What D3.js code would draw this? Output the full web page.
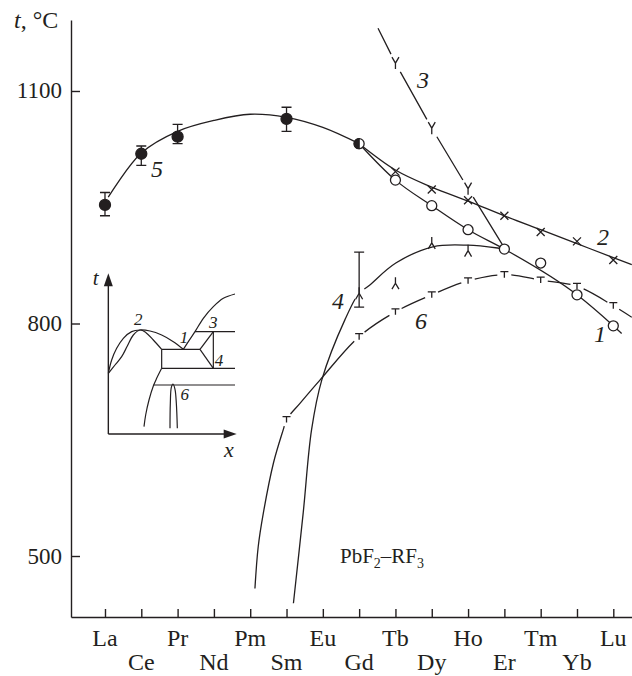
<!DOCTYPE html>
<html><head><meta charset="utf-8">
<script src="https://cdn.jsdelivr.net/npm/d3@7"></script>
<style>
body{margin:0;background:#fff}
svg{display:block}
svg text{font-family:"Liberation Serif","Times New Roman",serif;fill:#231f20}
</style>
</head><body>
<svg id="c" width="632" height="676"></svg>
<script>
// ---------- data ----------
const elements = ["La","Ce","Pr","Nd","Pm","Sm","Eu","Gd","Tb","Dy","Ho","Er","Tm","Yb","Lu"];
const yTicks = [500, 800, 1100];

// curve 5 (filled circles with error bars)
const c5Idx = [0, 1, 2, 5];
const c5Val = [953, 1019, 1041, 1064];
const c5Hi  = [969, 1029, 1057, 1079];
const c5Lo  = [939, 1004, 1032, 1048];
const c5FitIdx = [0.09, 1, 2, 3, 4, 5, 6, 7];
const c5FitVal = [963, 1020, 1048, 1062, 1070, 1066, 1053, 1032];
// Gd half-filled common point
const gdIdx = 7, gdVal = 1032;

// curve 1 (open circles)
const c1Idx = [8, 9, 10, 11, 12, 13, 14];
const c1Val = [985, 952, 921, 896, 878, 837, 797];
const c1FitIdx = [7, 8, 9, 10, 11, 13, 14, 14.23];
const c1FitVal = [1032, 985, 952, 921, 896, 837, 797, 787];

// curve 2 (crosses)
const c2Idx = [8, 9, 10, 11, 12, 13, 14];
const c2Val = [996, 973, 959, 939, 918, 906, 882];
const c2FitIdx = [7, 8, 9, 10, 11, 12, 13, 14, 14.51];
const c2FitVal = [1032, 998, 976, 958, 939, 921, 903, 885, 876];

// curve 3 (Y markers)
const c3Idx = [8, 9, 10];
const c3Val = [1136, 1052, 974];
const c3LineIdx = [7.52, 8, 9, 10, 11.02];
const c3LineVal = [1181, 1136, 1052, 974, 896];

// curve 4 (inverted Y markers)
const c4Idx = [7, 8, 9, 10];
const c4Val = [839, 852, 904, 894];
const c4ErrIdx = 7, c4ErrHi = 892, c4ErrLo = 821;
const c4LineIdx = [5.19, 5.46, 5.69, 5.97, 6.61, 7, 7.25, 8.01, 9.03, 10, 10.88, 11.02];
const c4LineVal = [439, 556, 663, 727, 805, 839, 848, 878, 899, 901, 897, 896];

// curve 6 (T markers)
const c6Idx = [5, 7, 8, 9, 10, 11, 12, 13, 14];
const c6Val = [676, 783, 815, 837, 855, 863, 856, 848, 823];
const c6LineIdx = [4.13, 4.22, 4.36, 4.64, 4.91, 5, 5.37, 5.92, 7, 8, 9, 10, 11, 12, 13, 14, 14.51];
const c6LineVal = [458, 512, 555, 620, 663, 676, 697, 727, 783, 815, 837, 855, 863, 856, 848, 823, 808];

// inset schematic (arbitrary schematic units)
const insLiq2 = [[55,340],[65,300],[80,265],[100,235],[125,215],[150,210],[180,213],[215,225],[250,245],[280,268]];
const insSol2 = [[55,340],[75,315],[95,290],[112,258],[130,225],[150,210],[168,218],[190,240],[215,268]];
const insLiq3 = [[280,268],[297,242],[315,215],[340,175],[370,140],[400,115],[435,102]];
const insSol6 = [[215,325],[200,355],[190,378],[177,420],[167,465],[162,500]];
const insDome = [[240,505],[241,430],[244,382],[249,372],[255,388],[259,430],[262,505]];
const insSegs = [
  [[215,268],[330,268]], [[215,268],[215,325]], [[215,325],[435,325]],
  [[330,268],[370,215]], [[330,268],[370,325]], [[370,215],[370,325]],
  [[315,215],[435,215]], [[190,375],[435,375]]
];
const insLabels = [["2",145,195],["1",282,250],["3",370,205],["4",387,318],["6",284,420]];

// ---------- drawing ----------
const ink = "#231f20";
const lw = 1.3;
const FONT = "'Liberation Serif', 'Times New Roman', serif";
const svg = d3.select("#c");
const x = d3.scaleLinear().domain([-0.936, 14.515]).range([71, 632]);
const y = d3.scaleLinear().domain([421.3, 1191.6]).range([617, 20]);

// axes
svg.append("g").attr("transform","translate(71,0)")
  .call(d3.axisRight(y).tickValues(yTicks).tickSize(9).tickSizeOuter(0).tickFormat(""));
svg.append("g").attr("transform","translate(0,617)")
  .call(d3.axisTop(x).tickValues(d3.range(elements.length)).tickSize(8).tickSizeOuter(0).tickFormat(""));
svg.selectAll(".domain, .tick line").attr("stroke", ink).attr("stroke-width", 1.4);

svg.append("g").selectAll("text").data(yTicks).join("text")
  .attr("x", 62).attr("y", d => y(d) + 7.5).attr("text-anchor","end")
  .attr("font-size", 23).text(d => d);
svg.append("g").selectAll("text").data(elements).join("text")
  .attr("x", (d,i) => x(i)).attr("y", (d,i) => i % 2 === 0 ? 646 : 670)
  .attr("text-anchor","middle").attr("font-size", 24).text(d => d);

const yt = svg.append("text").attr("x", 14).attr("y", 28).attr("font-size", 24);
yt.append("tspan").attr("font-style","italic").text("t");
yt.append("tspan").text(", °C");

const lineG = svg.append("g").attr("fill","none").attr("stroke",ink).attr("stroke-width",lw);
const zip = (a,b) => a.map((v,i) => [v, b[i]]);
const cr = d3.curveCatmullRom.alpha(0.5);

function drawLine(pts, curve) {
  const ln = d3.line().x(d => x(d[0])).y(d => y(d[1])).curve(curve);
  return lineG.append("path").attr("d", ln(pts));
}
function applyGaps(p, markers, gap) {
  const node = p.node(); const L = node.getTotalLength();
  const N = Math.ceil(L * 2); const samp = [];
  for (let i = 0; i <= N; i++) { const l = L * i / N; const q = node.getPointAtLength(l); samp.push([l, q.x, q.y]); }
  const cs = [];
  markers.forEach(([mi, mv]) => {
    const mx = x(mi), my = y(mv); let bd = 1e9, bl = 0;
    samp.forEach(([l, sx, sy]) => { const d = (sx-mx)**2 + (sy-my)**2; if (d < bd) { bd = d; bl = l; } });
    if (bd < 9) cs.push(bl);
  });
  cs.sort((a,b) => a-b);
  const arr = []; let pos = 0;
  cs.forEach(c => { const a = Math.max(pos, c-gap), b = Math.min(L, c+gap); arr.push(Math.max(0.01, a-pos), b-a); pos = b; });
  arr.push(L - pos + 1, L + 10);
  p.attr("stroke-dasharray", arr.join(" "));
}

// lines
drawLine(zip(c5FitIdx, c5FitVal), cr);
drawLine(zip(c1FitIdx, c1FitVal), d3.curveMonotoneX);
drawLine(zip(c2FitIdx, c2FitVal), d3.curveMonotoneX);
applyGaps(drawLine(zip(c3LineIdx, c3LineVal), d3.curveLinear), zip(c3Idx, c3Val), 10);
applyGaps(drawLine(zip(c4LineIdx, c4LineVal), cr), zip(c4Idx, c4Val), 7);
applyGaps(drawLine(zip(c6LineIdx, c6LineVal), cr), zip(c6Idx, c6Val), 7);

// error bars
const errG = svg.append("g").attr("stroke", ink).attr("stroke-width", 1.3).attr("fill","none");
function errBar(i, hi, lo) {
  const cx = x(i);
  errG.append("path").attr("d", `M${cx},${y(hi)}V${y(lo)}M${cx-5},${y(hi)}H${cx+5}M${cx-5},${y(lo)}H${cx+5}`);
}
c5Idx.forEach((d,k) => errBar(d, c5Hi[k], c5Lo[k]));
errBar(c4ErrIdx, c4ErrHi, c4ErrLo);

// markers
const mk = svg.append("g").attr("stroke", ink).attr("stroke-width", 1.3).attr("fill","none");
const glyph = {
  cross: "M-4,-4L4,4M-4,4L4,-4",
  yUp: "M-3.5,-6L0,0L3.5,-6M0,0V6",
  yDown: "M0,-6V0M-3.5,6L0,0L3.5,6",
  tee: "M-4,-3H4M0,-3V3"
};
function glyphs(idx, val, g) {
  mk.append("g").selectAll("path").data(zip(idx, val)).join("path")
    .attr("transform", d => `translate(${x(d[0])},${y(d[1])})`).attr("d", glyph[g]);
}
glyphs(c2Idx, c2Val, "cross");
glyphs(c3Idx, c3Val, "yUp");
glyphs(c4Idx, c4Val, "yDown");
glyphs(c6Idx, c6Val, "tee");
mk.append("g").selectAll("circle").data(zip(c1Idx, c1Val)).join("circle")
  .attr("cx", d => x(d[0])).attr("cy", d => y(d[1])).attr("r", 5).attr("fill", "#fff");
mk.append("g").selectAll("circle").data(zip(c5Idx, c5Val)).join("circle")
  .attr("cx", d => x(d[0])).attr("cy", d => y(d[1])).attr("r", 5.5).attr("fill", ink);
// half-filled Gd
const gx = x(gdIdx), gy = y(gdVal);
mk.append("circle").attr("cx", gx).attr("cy", gy).attr("r", 5).attr("fill", "#fff");
mk.append("path").attr("d", `M${gx},${gy-5}A5,5 0 0 0 ${gx},${gy+5}Z`).attr("fill", ink);

// curve labels
const labs = [["5",157,177],["3",423,88],["2",603,245],["1",600,342],["4",338,309],["6",421,329]];
svg.append("g").selectAll("text").data(labs).join("text")
  .attr("x", d => d[1]).attr("y", d => d[2]).attr("text-anchor","middle")
  .attr("font-size", 24).attr("font-style","italic").text(d => d[0]);

// system label
const sl = svg.append("text").attr("x", 340).attr("y", 563).attr("font-size", 21);
sl.append("tspan").text("PbF");
sl.append("tspan").attr("font-size", 14).attr("dy", 5).text("2");
sl.append("tspan").attr("dy", -5).text("–RF");
sl.append("tspan").attr("font-size", 14).attr("dy", 5).text("3");

// ---------- inset ----------
const ix = d3.scaleLinear().domain([0, 480]).range([90, 250]);
const iy = d3.scaleLinear().domain([0, 540]).range([260, 440]);
const ig = svg.append("g").attr("fill","none").attr("stroke",ink).attr("stroke-width",1.2);
const iline = c => d3.line().x(d => ix(d[0])).y(d => iy(d[1])).curve(c);
[insLiq2, insSol2, insLiq3, insSol6, insDome].forEach(p =>
  ig.append("path").attr("d", iline(d3.curveCatmullRom.alpha(0.5))(p)));
insSegs.forEach(s => ig.append("path").attr("d", iline(d3.curveLinear)(s)));
// inset axes with arrows
ig.append("path").attr("d", iline(d3.curveLinear)([[55,522],[55,70]])).attr("stroke-width",1.4);
ig.append("path").attr("d", iline(d3.curveLinear)([[55,522],[410,522]])).attr("stroke-width",1.4);
const ax0 = ix(55), ay0 = iy(40);
svg.append("path").attr("d", `M${ax0},${ay0}L${ax0-4.5},${ay0+13}L${ax0+4.5},${ay0+13}Z`).attr("fill", ink);
const bx0 = ix(440), by0 = iy(522);
svg.append("path").attr("d", `M${bx0},${by0}L${bx0-13},${by0-4.5}L${bx0-13},${by0+4.5}Z`).attr("fill", ink);
svg.append("text").attr("x", ix(17)).attr("y", iy(75)).attr("text-anchor","middle")
  .attr("font-size", 21).attr("font-style","italic").text("t");
svg.append("text").attr("x", ix(417)).attr("y", iy(591)).attr("text-anchor","middle")
  .attr("font-size", 22).attr("font-style","italic").text("x");
svg.append("g").selectAll("text").data(insLabels).join("text")
  .attr("x", d => ix(d[1])).attr("y", d => iy(d[2])).attr("text-anchor","middle")
  .attr("font-size", 17).attr("font-style","italic").text(d => d[0]);

svg.selectAll("text").attr("font-family", FONT).attr("fill", ink);
</script>
</body></html>
